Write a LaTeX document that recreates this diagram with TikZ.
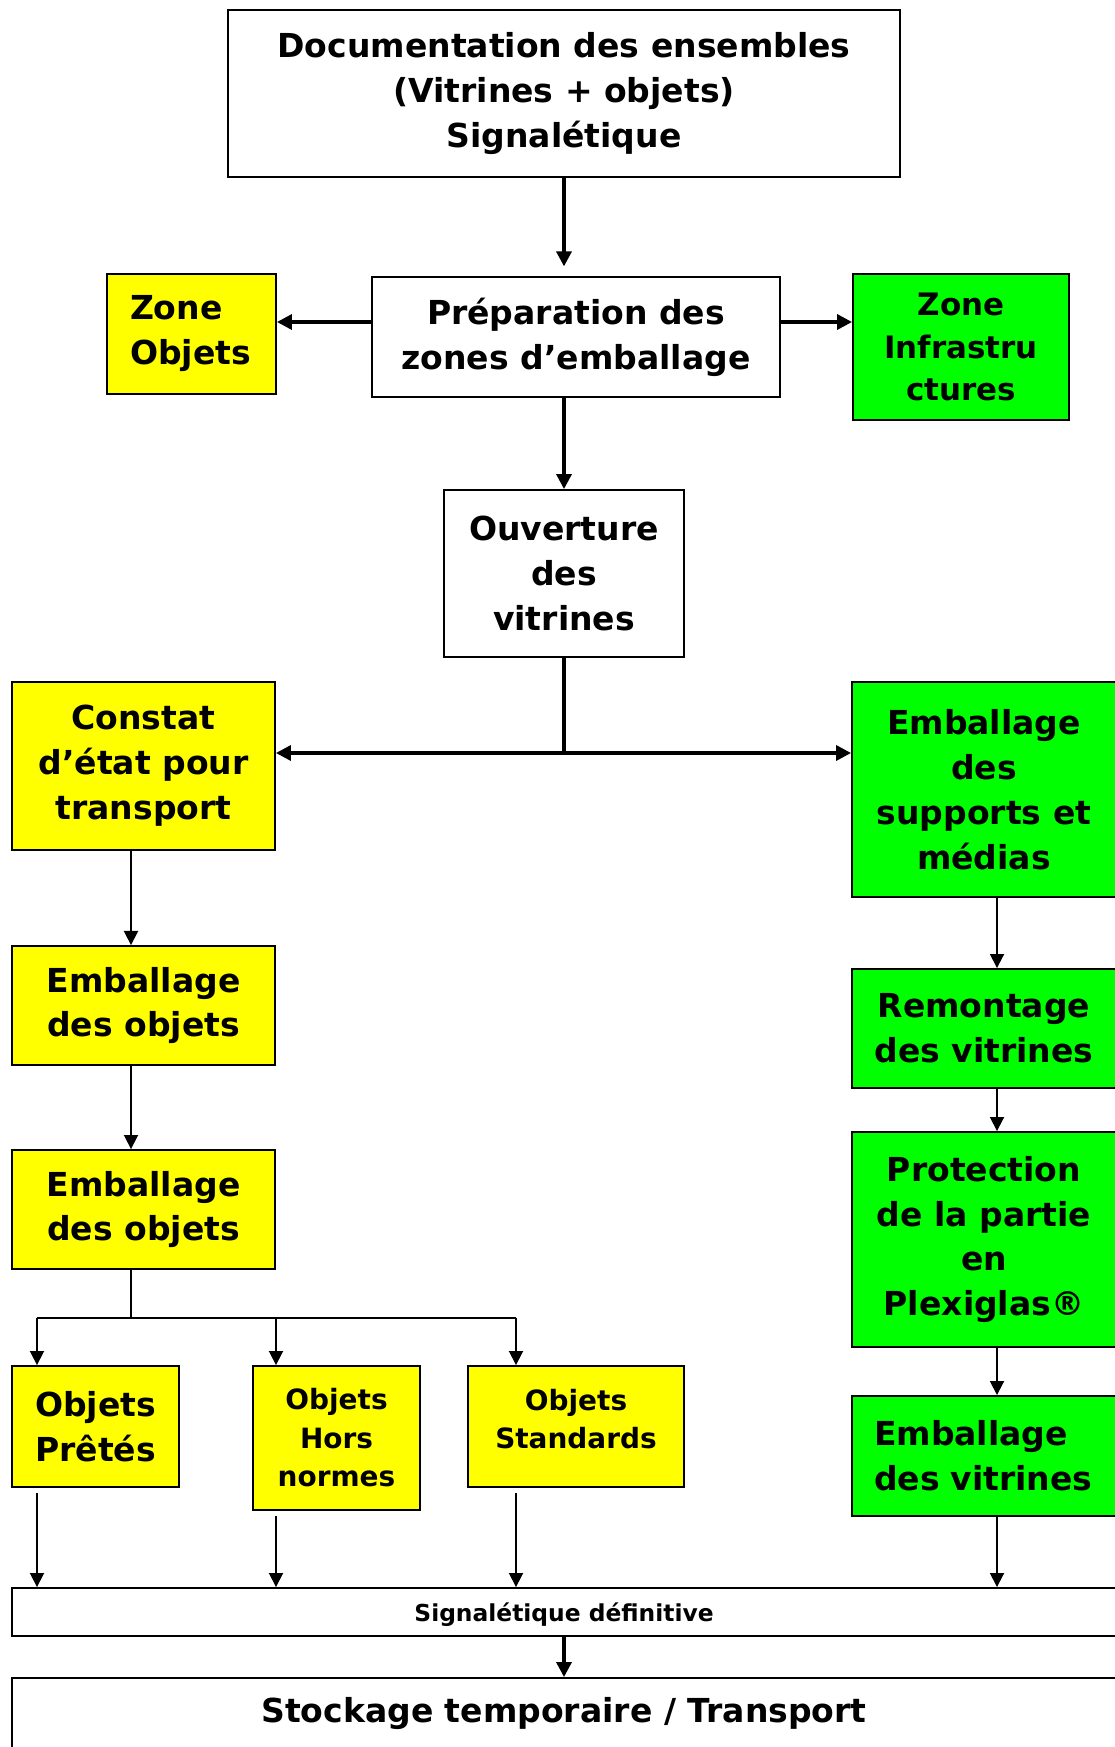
\documentclass[tikz,border=0pt]{standalone}
\usepackage{fontspec}
\setmainfont{DejaVu Sans}
\usetikzlibrary{arrows.meta}
\definecolor{jaune}{RGB}{255,255,0}
\definecolor{vert}{RGB}{0,255,0}
\newcommand\grand{\fontsize{18.8}{25.6}\selectfont\bfseries}
\newcommand\moyen{\fontsize{17.6}{24.1}\selectfont\bfseries}
\newcommand\petit{\fontsize{15.9}{21.9}\selectfont\bfseries}
\newcommand\mini{\fontsize{13.3}{16}\selectfont\bfseries}
\tikzset{
  boite/.style={draw, line width=1.1pt, inner sep=0pt, align=center, font=\grand},
  jaunebox/.style={boite, fill=jaune},
  vertbox/.style={boite, fill=vert},
  trait/.style={line width=1pt},
  fleche/.style={line width=1pt, -{Triangle[length=8pt,width=8pt]}},
  grostrait/.style={line width=1.9pt},
  grossefleche/.style={line width=1.9pt, -{Triangle[length=8.5pt,width=8.5pt]}}
}
\begin{document}
\begin{tikzpicture}[x=0.02cm,y=-0.02cm]
  \useasboundingbox (0,0) rectangle (1115,1747);
  \clip (0,0) rectangle (1115,1747);
  \node[boite, minimum width=13.44cm, minimum height=3.34cm] (doc) at (564,93.5)
    {Documentation des ensembles\\(Vitrines + objets)\\Signalétique};
  \node[boite, minimum width=8.16cm, minimum height=2.4cm] (prep) at (576,337)
    {Préparation des\\zones d’emballage};
  \node[jaunebox, minimum width=3.38cm, minimum height=2.4cm, text width=2.46cm, align=left]
    (zobj) at (191.5,334) {Zone\\Objets};
  \node[vertbox, font=\moyen, minimum width=4.32cm, minimum height=2.92cm] (zinf) at (961,347)
    {Zone\\Infrastru\\ctures};
  \node[boite, minimum width=4.8cm, minimum height=3.34cm] (ouv) at (564,573.5)
    {Ouverture\\des\\vitrines};
  \node[jaunebox, minimum width=5.26cm, minimum height=3.36cm] (constat) at (143.5,766)
    {Constat\\d’état pour\\transport};
  \node[vertbox, minimum width=5.28cm, minimum height=4.3cm] (supports) at (984,789.5)
    {Emballage\\des\\supports et\\médias};
  \node[jaunebox, minimum width=5.26cm, minimum height=2.38cm] (emb1) at (143.5,1005.5)
    {Emballage\\des objets};
  \node[jaunebox, minimum width=5.26cm, minimum height=2.38cm] (emb2) at (143.5,1209.5)
    {Emballage\\des objets};
  \node[jaunebox, minimum width=3.34cm, minimum height=2.42cm] (pretes) at (95.5,1426.5)
    {Objets\\Prêtés};
  \node[jaunebox, font=\petit, minimum width=3.34cm, minimum height=2.88cm] (hors) at (336.5,1438)
    {Objets\\Hors\\normes};
  \node[jaunebox, font=\petit, minimum width=4.32cm, minimum height=2.42cm] (std) at (576,1426.5)
    {Objets\\Standards\\[-13pt]};
  \node[vertbox, minimum width=5.28cm, minimum height=2.38cm] (remont) at (984,1028.5)
    {Remontage\\des vitrines};
  \node[vertbox, minimum width=5.28cm, minimum height=4.3cm] (protec) at (984,1239.5)
    {Protection\\de la partie\\en\\Plexiglas®};
  \node[vertbox, minimum width=5.28cm, minimum height=2.4cm, text width=4.4cm, align=left]
    (embvit) at (984,1456) {Emballage\\des vitrines};
  \node[boite, font=\mini, text depth=0pt, minimum width=22.08cm, minimum height=0.96cm] (signal)
    at (564,1612) {Signalétique définitive};
  \node[boite, minimum width=22.08cm, minimum height=1.4cm] (stock) at (564,1713)
    {Stockage temporaire / Transport};

  \coordinate (zrow) at (0,322);
  \coordinate (split) at (564,753);
  \coordinate (lcol) at (131,0);
  \coordinate (rcol) at (997,0);
  \coordinate (branch) at (131,1318);

  \draw[grossefleche, shorten >=5.5pt] (doc.south) -- (doc.south |- prep.north);
  \draw[grossefleche] (prep.west |- zrow) -- (zobj.east |- zrow);
  \draw[grossefleche] (prep.east |- zrow) -- (zinf.west |- zrow);
  \draw[grossefleche] (ouv.north |- prep.south) -- (ouv.north);
  \draw[grostrait] (ouv.south) -- (split);
  \draw[grossefleche, {Triangle[length=8.5pt,width=8.5pt]}-{Triangle[length=8.5pt,width=8.5pt]}]
    (split -| constat.east) -- (split -| supports.west);

  \draw[fleche] (constat.south -| lcol) -- (emb1.north -| lcol);
  \draw[fleche] (emb1.south -| lcol) -- (emb2.north -| lcol);
  \draw[trait] (emb2.south -| lcol) -- (branch);
  \foreach \n/\x in {pretes/37,hors/276,std/516}{
    \coordinate (c\n) at (\x,1318);
    \draw[fleche] (c\n) -- (c\n |- \n.north);
    \draw[fleche, shorten <=3pt] (c\n |- \n.south) -- (c\n |- signal.north);
  }
  \draw[trait] (cpretes) -- (cstd);

  \draw[fleche] (supports.south -| rcol) -- (remont.north -| rcol);
  \draw[fleche] (remont.south -| rcol) -- (protec.north -| rcol);
  \draw[fleche] (protec.south -| rcol) -- (embvit.north -| rcol);
  \draw[fleche] (embvit.south -| rcol) -- (signal.north -| rcol);
  \draw[grossefleche] (signal.south) -- (stock.north);
\end{tikzpicture}
\end{document}
